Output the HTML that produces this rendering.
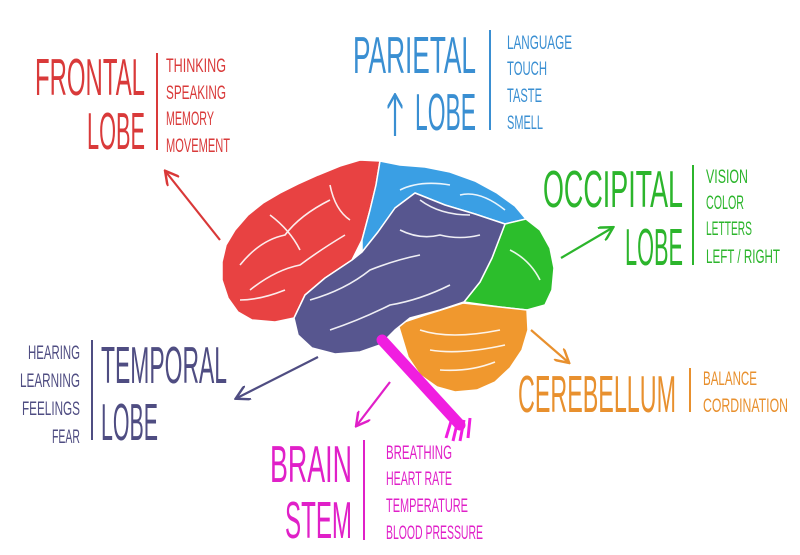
<!DOCTYPE html>
<html><head><meta charset="utf-8"><style>
html,body{margin:0;padding:0;background:#fff;}
svg{display:block}
text{font-family:"Liberation Sans Narrow","Liberation Sans",sans-serif;}
.b{font-size:52px;}
.s{font-size:19px;}
</style></head><body>
<svg width="800" height="555" viewBox="0 0 800 555" xmlns="http://www.w3.org/2000/svg">
<defs>
<marker id="ar" viewBox="0 0 10 10" refX="8" refY="5" markerWidth="7" markerHeight="7" orient="auto-start-reverse">
<path d="M0,0 L9,5 L0,10" fill="none" stroke="context-stroke" stroke-width="1.6"/>
</marker>
</defs>
<!-- brain lobes -->
<g stroke="#fff" stroke-width="1.5" stroke-linejoin="round">
<polygon fill="#e84242" points="222,262 226,245 235,230 248,215 263,203 280,193 298,184 318,175 340,166 360,160 380,161 376,185 370,210 362,240 352,260 325,278 305,295 294,318 275,322 252,320 238,312 228,298 222,280"/>
<polygon fill="#3a9fe4" points="380,161 400,165 425,167 450,172 475,181 497,193 515,206 526,219 505,224 475,214 445,205 415,193 395,208 378,232 362,252 362,240 370,210 376,185"/>
<polygon fill="#2cbe2c" points="505,224 526,219 540,230 550,248 554,268 552,290 545,305 527,310 500,307 464,302 480,282 492,258"/>
<polygon fill="#f0982e" points="398,324 425,315 463,303 500,307 527,310 528,330 522,350 510,368 495,382 477,390 455,392 437,387 420,375 408,357"/>
<polygon fill="#57568f" points="415,193 445,205 475,214 505,224 492,258 480,282 464,302 440,310 410,318 395,330 380,345 360,352 335,354 312,348 298,335 294,318 305,295 325,278 352,260 362,252 378,232 395,208"/>
</g>
<path d="M382,340 L460,425" stroke="#f01ee0" stroke-width="11" stroke-linecap="round"/>
<path d="M452,418 L446,438 M458,420 L453,441 M464,420 L460,441 M470,418 L468,438" stroke="#f01ee0" stroke-width="3"/>
<!-- sulci -->
<g fill="none" stroke="#fff" stroke-width="1.6" opacity="0.9">
<path d="M240,265 Q260,240 285,235 Q300,215 330,200"/>
<path d="M250,290 Q275,270 300,265 Q320,250 345,235"/>
<path d="M270,215 Q290,230 300,250"/>
<path d="M330,185 Q335,210 350,220"/>
<path d="M240,300 Q260,300 285,290"/>
<path d="M310,300 Q345,290 370,270 Q395,260 420,255"/>
<path d="M330,330 Q360,320 390,305 Q420,300 450,285"/>
<path d="M400,230 Q420,240 440,235 Q460,240 480,235"/>
<path d="M420,200 Q440,215 470,215"/>
<path d="M400,190 Q420,180 450,185 M460,195 Q480,190 505,210"/>
<path d="M510,250 Q530,260 540,280"/>
<path d="M420,330 Q450,340 500,330 M430,350 Q460,355 505,345 M440,370 Q470,372 495,362"/>
</g>
<!-- arrows -->
<g fill="none" stroke-width="2.2" marker-end="url(#ar)">
<line x1="220" y1="240" x2="166" y2="172" stroke="#d93838"/>
<line x1="395" y1="136" x2="395" y2="96" stroke="#3a8fd2"/>
<line x1="561" y1="258" x2="612" y2="228" stroke="#2cb52c"/>
<line x1="531" y1="330" x2="568" y2="362" stroke="#e8902e"/>
<line x1="318" y1="357" x2="237" y2="398" stroke="#4f4d82"/>
<line x1="390" y1="382" x2="357" y2="425" stroke="#e020c8"/>
</g>
<!-- FRONTAL -->
<g fill="#d93a3a">
<text class="b" x="35" y="95" textLength="110" lengthAdjust="spacingAndGlyphs">FRONTAL</text>
<text class="b" x="87" y="149" textLength="58" lengthAdjust="spacingAndGlyphs">LOBE</text>
<rect x="156" y="53" width="2" height="97"/>
<text class="s" x="166" y="72" textLength="60" lengthAdjust="spacingAndGlyphs">THINKING</text>
<text class="s" x="166" y="99" textLength="60" lengthAdjust="spacingAndGlyphs">SPEAKING</text>
<text class="s" x="166" y="125" textLength="48" lengthAdjust="spacingAndGlyphs">MEMORY</text>
<text class="s" x="166" y="152" textLength="64" lengthAdjust="spacingAndGlyphs">MOVEMENT</text>
</g>
<!-- PARIETAL -->
<g fill="#3a8fd2">
<text class="b" x="353" y="73" textLength="123" lengthAdjust="spacingAndGlyphs">PARIETAL</text>
<text class="b" x="415" y="130" textLength="61" lengthAdjust="spacingAndGlyphs">LOBE</text>
<rect x="489" y="30" width="2" height="100"/>
<text class="s" x="507" y="49" textLength="65" lengthAdjust="spacingAndGlyphs">LANGUAGE</text>
<text class="s" x="507" y="75" textLength="40" lengthAdjust="spacingAndGlyphs">TOUCH</text>
<text class="s" x="507" y="102" textLength="35" lengthAdjust="spacingAndGlyphs">TASTE</text>
<text class="s" x="507" y="129" textLength="36" lengthAdjust="spacingAndGlyphs">SMELL</text>
</g>
<!-- OCCIPITAL -->
<g fill="#2cb52c">
<text class="b" x="543" y="207" textLength="140" lengthAdjust="spacingAndGlyphs">OCCIPITAL</text>
<text class="b" x="625" y="265" textLength="58" lengthAdjust="spacingAndGlyphs">LOBE</text>
<rect x="692" y="165" width="2" height="100"/>
<text class="s" x="706" y="183" textLength="42" lengthAdjust="spacingAndGlyphs">VISION</text>
<text class="s" x="706" y="209" textLength="38" lengthAdjust="spacingAndGlyphs">COLOR</text>
<text class="s" x="706" y="235" textLength="46" lengthAdjust="spacingAndGlyphs">LETTERS</text>
<text class="s" x="706" y="263" textLength="74" lengthAdjust="spacingAndGlyphs">LEFT / RIGHT</text>
</g>
<!-- TEMPORAL -->
<g fill="#4f4d82">
<text class="b" x="101" y="383" textLength="126" lengthAdjust="spacingAndGlyphs">TEMPORAL</text>
<text class="b" x="101" y="440" textLength="57" lengthAdjust="spacingAndGlyphs">LOBE</text>
<rect x="91" y="340" width="2" height="100"/>
<text class="s" x="28" y="359" textLength="52" lengthAdjust="spacingAndGlyphs">HEARING</text>
<text class="s" x="20" y="387" textLength="60" lengthAdjust="spacingAndGlyphs">LEARNING</text>
<text class="s" x="22" y="415" textLength="58" lengthAdjust="spacingAndGlyphs">FEELINGS</text>
<text class="s" x="52" y="443" textLength="28" lengthAdjust="spacingAndGlyphs">FEAR</text>
</g>
<!-- CEREBELLUM -->
<g fill="#e8902e">
<text class="b" x="518" y="412" textLength="158" lengthAdjust="spacingAndGlyphs">CEREBELLUM</text>
<rect x="689" y="368" width="2" height="44"/>
<text class="s" x="703" y="385" textLength="54" lengthAdjust="spacingAndGlyphs">BALANCE</text>
<text class="s" x="703" y="412" textLength="85" lengthAdjust="spacingAndGlyphs">CORDINATION</text>
</g>
<!-- BRAIN STEM -->
<g fill="#e020c8">
<text class="b" x="270" y="482" textLength="82" lengthAdjust="spacingAndGlyphs">BRAIN</text>
<text class="b" x="285" y="538" textLength="67" lengthAdjust="spacingAndGlyphs">STEM</text>
<rect x="363" y="440" width="2" height="100"/>
<text class="s" x="386" y="459" textLength="66" lengthAdjust="spacingAndGlyphs">BREATHING</text>
<text class="s" x="386" y="485" textLength="66" lengthAdjust="spacingAndGlyphs">HEART RATE</text>
<text class="s" x="386" y="512" textLength="82" lengthAdjust="spacingAndGlyphs">TEMPERATURE</text>
<text class="s" x="386" y="539" textLength="97" lengthAdjust="spacingAndGlyphs">BLOOD PRESSURE</text>
</g>
</svg>
</body></html>
